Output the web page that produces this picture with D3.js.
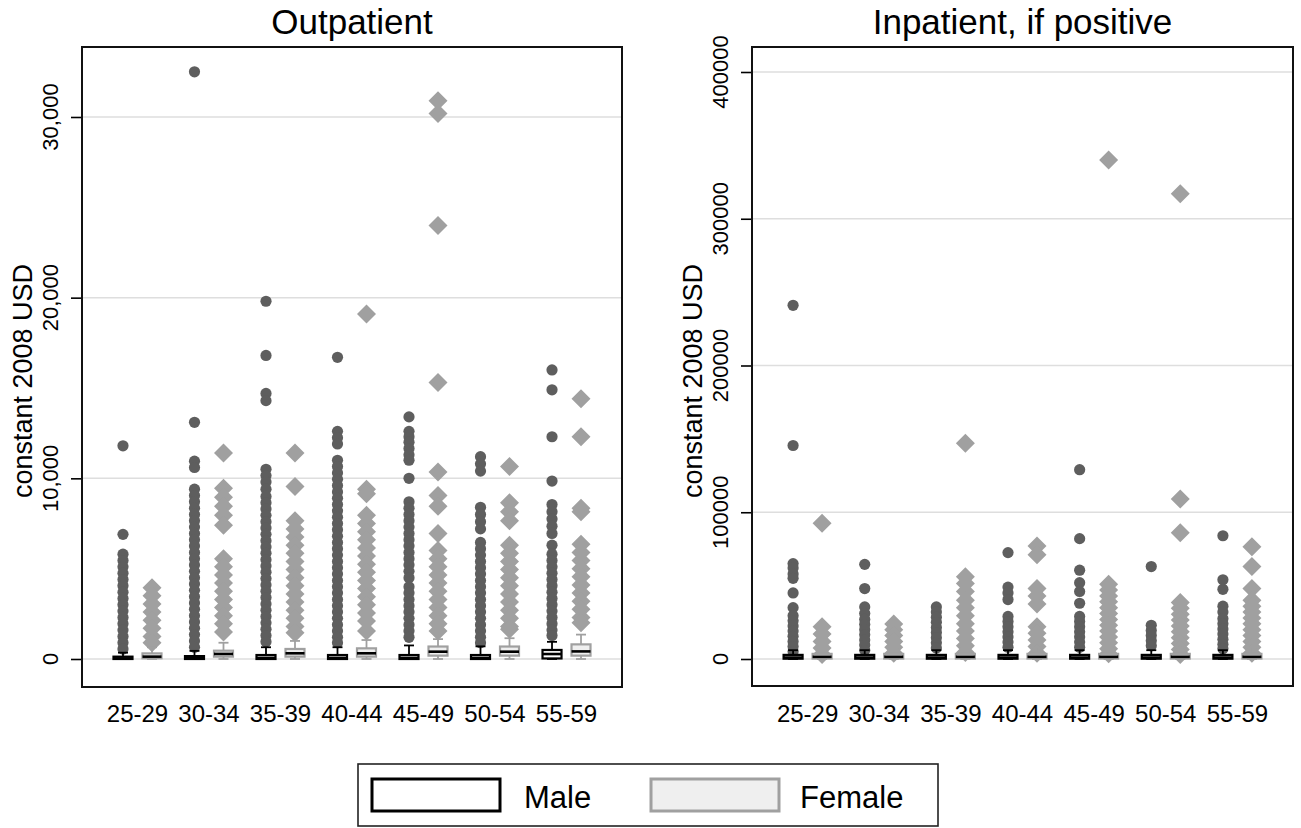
<!DOCTYPE html>
<html><head><meta charset="utf-8">
<script src="https://cdn.jsdelivr.net/npm/d3@7"></script>
<style>
body{margin:0;background:#fff;}
svg{display:block;}
text{font-family:"Liberation Sans",Arial,Helvetica,sans-serif;fill:#000;}
</style>
</head><body>
<svg id="chart" width="1301" height="828"></svg>
<script>
// ---------- categories ----------
const ageGroups = ["25-29","30-34","35-39","40-44","45-49","50-54","55-59"];
const sexes = ["Male","Female"];

// ---------- Outpatient (USD) ----------
const outTicks = [0, 10000, 20000, 30000];
const outTickLabels = ["0", "10,000", "20,000", "30,000"];
// [lower whisker, q1, median, q3, upper whisker]
const outMaleBox = [
  [0, 0, 30, 130, 350],
  [0, 0, 40, 160, 450],
  [0, 0, 60, 220, 650],
  [0, 0, 60, 220, 650],
  [0, 0, 60, 220, 750],
  [0, 0, 60, 220, 700],
  [0, 30, 275, 500, 950]
];
const outFemaleBox = [
  [0, 40, 130, 310, 650],
  [0, 130, 280, 460, 900],
  [0, 130, 315, 555, 1000],
  [0, 130, 315, 590, 1050],
  [0, 185, 405, 690, 1100],
  [0, 185, 405, 690, 1150],
  [0, 185, 420, 810, 1350]
];
const outMaleOutliers = [
  [11800, 6900, 5800, 5450, 5100, 4750, 4400, 4050, 3700, 3350, 3000, 2650, 2300, 1950, 1600, 1250, 900, 550],
  [32500, 13100, 10950, 10600, 9400, 9050, 8700, 8350, 8000, 7650, 7300, 6950, 6600, 6250, 5900, 5550, 5200, 4850, 4500, 4150, 3800, 3450, 3100, 2750, 2400, 2050, 1700, 1350, 1000, 650],
  [19800, 16800, 14700, 14300, 10500, 10150, 9800, 9400, 9000, 8650, 8300, 7950, 7600, 7250, 6900, 6550, 6200, 5850, 5500, 5150, 4800, 4450, 4100, 3750, 3400, 3050, 2700, 2350, 2000, 1650, 1300, 950],
  [16700, 12600, 12250, 11900, 11000, 10650, 10300, 9950, 9600, 9250, 8900, 8550, 8200, 7850, 7500, 7150, 6800, 6450, 6100, 5750, 5400, 5050, 4700, 4350, 4000, 3650, 3300, 2950, 2600, 2250, 1900, 1550, 1200, 900],
  [13400, 12600, 12300, 12000, 11650, 11300, 11000, 10000, 8700, 8350, 8000, 7650, 7300, 6950, 6600, 6250, 5900, 5550, 5200, 4850, 4500, 4000, 3650, 3300, 2950, 2600, 2250, 1900, 1550, 1200],
  [11200, 10800, 10400, 8400, 8000, 7600, 7200, 6450, 6100, 5750, 5400, 5050, 4700, 4350, 4000, 3650, 3300, 2950, 2600, 2250, 1900, 1550, 1200, 900],
  [16000, 14900, 12300, 9850, 8550, 8150, 7750, 7350, 6950, 6300, 5800, 5450, 5100, 4750, 4400, 4050, 3700, 3350, 3000, 2650, 2300, 1950, 1600, 1300]
];
const outFemaleOutliers = [
  [3950, 3500, 3050, 2600, 2150, 1700, 1250, 900],
  [11400, 9450, 8950, 8450, 7950, 7400, 5550, 5100, 4650, 4200, 3750, 3300, 2850, 2400, 1950, 1500],
  [11400, 9550, 7650, 7200, 6750, 6300, 5850, 5400, 4950, 4500, 4050, 3600, 3150, 2700, 2250, 1800, 1450],
  [19100, 9400, 9150, 7950, 7500, 7050, 6600, 6150, 5700, 5250, 4800, 4350, 3900, 3450, 3000, 2550, 2100, 1550],
  [30900, 30200, 24000, 15300, 10350, 9050, 8450, 6950, 6000, 5550, 5100, 4650, 4200, 3750, 3300, 2850, 2400, 1950, 1550],
  [10650, 8650, 8150, 7650, 6300, 5850, 5400, 4950, 4500, 4050, 3600, 3150, 2700, 2250, 1800, 1650],
  [14400, 12300, 8350, 8150, 6350, 5900, 5450, 5000, 4550, 4100, 3650, 3200, 2750, 2300, 2000]
];

// ---------- Inpatient, if positive (USD) ----------
const inTicks = [0, 100000, 200000, 300000, 400000];
const inTickLabels = ["0", "100000", "200000", "300000", "400000"];
const inMaleBox = [
  [0, 200, 1000, 2800, 6000],
  [0, 200, 1000, 2800, 6000],
  [0, 200, 1000, 2800, 6000],
  [0, 200, 1000, 2800, 6000],
  [0, 200, 1000, 2800, 6000],
  [0, 200, 1000, 2800, 6000],
  [0, 200, 1000, 2800, 6000]
];
const inFemaleBox = [
  [0, 300, 1500, 3500, 8000],
  [0, 300, 1500, 3500, 8000],
  [0, 300, 1500, 3500, 8000],
  [0, 300, 1500, 3500, 8000],
  [0, 300, 1500, 3500, 8000],
  [0, 300, 1500, 3500, 8000],
  [0, 300, 1500, 3500, 8000]
];
const inMaleOutliers = [
  [241000, 145500, 65000, 62000, 58000, 55000, 45000, 35000, 29500, 26000, 22500, 19000, 15500, 12000, 8500, 5000],
  [64500, 48000, 35500, 31000, 27000, 23500, 20000, 16500, 13000, 9500, 6000],
  [35500, 32000, 28500, 25000, 21500, 18000, 14500, 11000, 7500],
  [72500, 49000, 45000, 40500, 29000, 25500, 22000, 18500, 15000, 11500, 8000],
  [129000, 82000, 60500, 52000, 46000, 38000, 29000, 25500, 22000, 18500, 15000, 11500, 8000],
  [63000, 23000, 19500, 16000, 12500, 9000],
  [84000, 54000, 47500, 36000, 32000, 27500, 24000, 20500, 17000, 13500, 10000, 7000]
];
const inFemaleOutliers = [
  [92500, 22000, 17000, 12000, 7500, 3000],
  [23800, 20000, 16000, 12000, 8000, 4000],
  [147000, 56000, 51500, 46000, 40000, 35000, 29500, 24000, 19000, 14000, 9000, 4500],
  [77000, 71000, 48000, 43000, 37500, 22000, 17500, 13000, 8500, 4000],
  [340000, 51000, 47000, 43000, 39000, 35000, 31000, 27000, 23000, 19000, 15000, 11000, 7000, 3500],
  [317000, 109000, 86000, 38500, 34500, 30500, 26500, 22500, 18500, 14500, 10500, 6500, 3000],
  [76500, 63000, 48000, 40000, 36000, 32000, 28000, 24000, 20000, 16000, 12000, 8000, 4000]
];

const panelTitles = ["Outpatient", "Inpatient, if positive"];
const axisTitle = "constant 2008 USD";

// ---------- drawing ----------
const svg = d3.select("#chart");
const maleColor = "#5e5e5e", femaleColor = "#a0a0a0";

function drawPanel(cfg) {
  const g = svg.append("g");
  const x = d3.scalePoint().domain(ageGroups).range([cfg.x0, cfg.x1]).padding(0.776);
  const y = d3.scaleLinear().domain(cfg.domain).range([cfg.y1, cfg.y0]);
  const off = d3.scalePoint().domain(sexes).range([-14.5, 14.5]);

  // gridlines
  g.selectAll("line.grid").data(cfg.ticks).join("line")
    .attr("x1", cfg.x0).attr("x2", cfg.x1)
    .attr("y1", d => y(d)).attr("y2", d => y(d))
    .attr("stroke", "#dedede").attr("stroke-width", 1.5);

  // axis (ticks)
  const axis = d3.axisLeft(y).tickValues(cfg.ticks).tickSize(11)
    .tickFormat((d, i) => cfg.labels[i]);
  const ax = g.append("g").attr("transform", `translate(${cfg.x0},0)`).call(axis);
  ax.select(".domain").remove();
  ax.selectAll(".tick line").attr("stroke", "#000").attr("stroke-width", 1.6);
  ax.selectAll(".tick text").remove();
  g.selectAll("text.ytl").data(cfg.ticks).join("text")
    .attr("transform", d => `translate(${cfg.x0 - 24},${y(d)}) rotate(-90)`)
    .attr("text-anchor", "middle")
    .style("font-size", "22px")
    .text((d, i) => cfg.labels[i]);

  // axis title
  g.append("text")
    .attr("transform", `translate(${cfg.x0 - 50},381) rotate(-90)`)
    .attr("text-anchor", "middle").style("font-size", "27px")
    .text(axisTitle);

  // panel title
  g.append("text").attr("x", (cfg.x0 + cfg.x1) / 2).attr("y", 34)
    .attr("text-anchor", "middle").style("font-size", "35px").text(cfg.title);

  // x labels
  g.selectAll("text.xl").data(ageGroups).join("text")
    .attr("x", d => x(d)).attr("y", 722)
    .attr("text-anchor", "middle").style("font-size", "24px").text(d => d);

  const series = [
    {sex: "Male", box: cfg.maleBox, outs: cfg.maleOut, color: maleColor, stroke: "#000", fill: "#fff"},
    {sex: "Female", box: cfg.femaleBox, outs: cfg.femaleOut, color: femaleColor, stroke: "#a0a0a0", fill: "#efefef"}
  ];

  const bw = 19, cw = 10;
  series.forEach(s => {
    ageGroups.forEach((ag, i) => {
      const xc = x(ag) + off(s.sex);
      const [lo, q1, med, q3, hi] = s.box[i];
      // outliers
      if (s.sex === "Male") {
        g.selectAll(null).data(s.outs[i]).join("circle")
          .attr("cx", xc).attr("cy", d => y(d)).attr("r", 5.6)
          .attr("fill", s.color);
      } else {
        g.selectAll(null).data(s.outs[i]).join("path")
          .attr("d", "M0,-9.5L9.5,0L0,9.5L-9.5,0Z")
          .attr("transform", d => `translate(${xc},${y(d)})`)
          .attr("fill", s.color);
      }
      // whiskers
      g.append("line").attr("x1", xc).attr("x2", xc).attr("y1", y(q3)).attr("y2", y(hi))
        .attr("stroke", s.stroke).attr("stroke-width", 1.8);
      g.append("line").attr("x1", xc).attr("x2", xc).attr("y1", y(q1)).attr("y2", y(lo))
        .attr("stroke", s.stroke).attr("stroke-width", 1.8);
      [hi, lo].forEach(v => g.append("line")
        .attr("x1", xc - cw / 2).attr("x2", xc + cw / 2).attr("y1", y(v)).attr("y2", y(v))
        .attr("stroke", s.stroke).attr("stroke-width", 1.8));
      // box
      g.append("rect").attr("x", xc - bw / 2).attr("width", bw)
        .attr("y", y(q3)).attr("height", Math.max(0.5, y(q1) - y(q3)))
        .attr("fill", s.fill).attr("stroke", s.stroke).attr("stroke-width", 2.2);
      g.append("line").attr("x1", xc - bw / 2).attr("x2", xc + bw / 2)
        .attr("y1", y(med)).attr("y2", y(med))
        .attr("stroke", "#000").attr("stroke-width", 2.6);
    });
  });

  // frame
  g.append("rect").attr("x", cfg.x0).attr("y", cfg.y0)
    .attr("width", cfg.x1 - cfg.x0).attr("height", cfg.y1 - cfg.y0)
    .attr("fill", "none").attr("stroke", "#111").attr("stroke-width", 2);
}

drawPanel({
  x0: 82, x1: 622, y0: 47, y1: 687,
  domain: [-1550, 33874],
  ticks: outTicks, labels: outTickLabels, title: panelTitles[0],
  maleBox: outMaleBox, femaleBox: outFemaleBox,
  maleOut: outMaleOutliers, femaleOut: outFemaleOutliers
});
drawPanel({
  x0: 752, x1: 1293, y0: 47, y1: 686,
  domain: [-18399, 417036],
  ticks: inTicks, labels: inTickLabels, title: panelTitles[1],
  maleBox: inMaleBox, femaleBox: inFemaleBox,
  maleOut: inMaleOutliers, femaleOut: inFemaleOutliers
});

// legend
const leg = svg.append("g");
leg.append("rect").attr("x", 358).attr("y", 764).attr("width", 580).attr("height", 62)
  .attr("fill", "#fff").attr("stroke", "#222").attr("stroke-width", 1.6);
const legItems = [
  {label: sexes[0], kx: 372, tx: 524, fill: "#fff", stroke: "#000"},
  {label: sexes[1], kx: 651, tx: 800, fill: "#efefef", stroke: "#a0a0a0"}
];
legItems.forEach(it => {
  leg.append("rect").attr("x", it.kx).attr("y", 779).attr("width", 128).attr("height", 32)
    .attr("fill", it.fill).attr("stroke", it.stroke).attr("stroke-width", 3);
  leg.append("text").attr("x", it.tx).attr("y", 808).style("font-size", "31px").text(it.label);
});
</script>
</body></html>
